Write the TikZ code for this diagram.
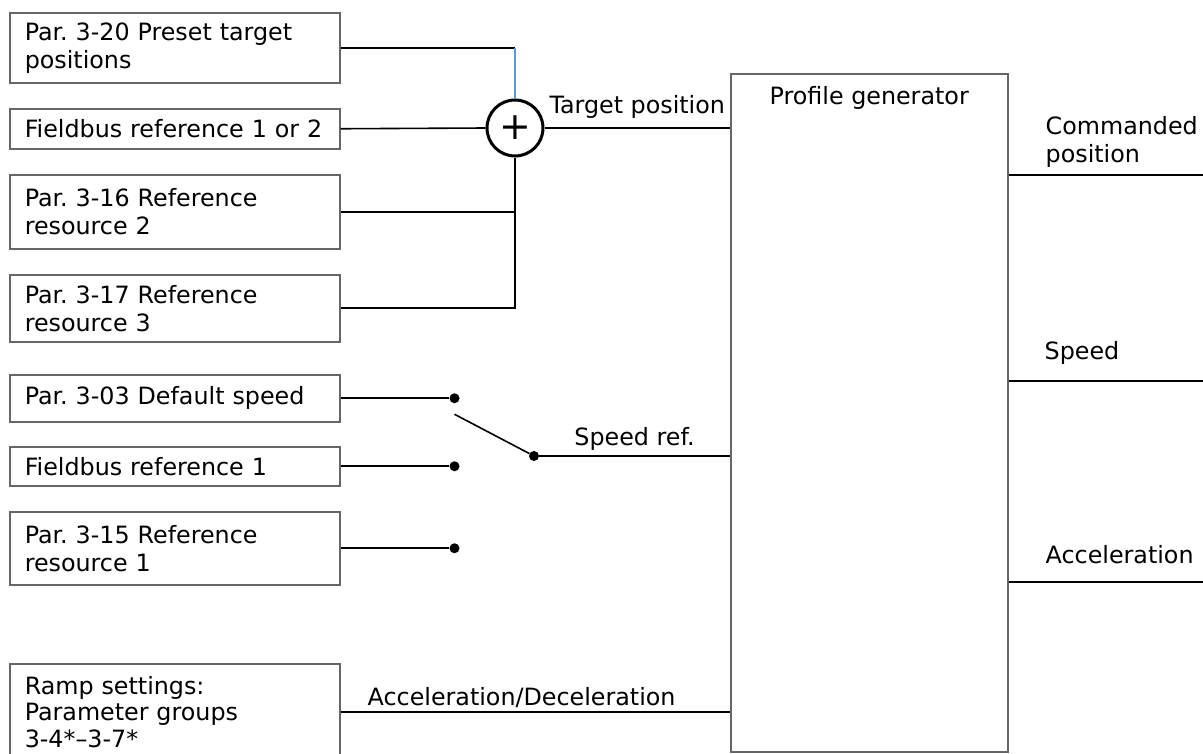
\documentclass[tikz,border=0pt]{standalone}
\usepackage{fontspec}
\setmainfont{DejaVu Sans}
\usetikzlibrary{positioning,calc}
\definecolor{tapblue}{RGB}{91,155,213}
\frenchspacing

\begin{document}
\begin{tikzpicture}[
  x=1pt, y=-1pt,
  font=\fontsize{23.8}{28}\selectfont,
  src/.style={draw=black!60, line width=1.5pt, anchor=north west, align=left,
    text width=300pt, inner xsep=15pt, inner ysep=0pt},
  wire/.style={line width=1.6pt},
  contact/.style={circle, fill, inner sep=0pt, minimum size=10pt},
  lbl/.style={inner sep=2pt}
]
\useasboundingbox (0,0) rectangle (1203,753);

% sources
\node[src, minimum height=70pt] (preset) at (9,12) {Par. 3-20 Preset target\\positions};
\node[src, minimum height=40pt] (fbpos) at (9,108) {Fieldbus reference 1 or 2};
\node[src, minimum height=74pt] (ref2) at (9,174) {Par. 3-16 Reference\\resource 2};
\node[src, minimum height=67pt] (ref3) at (9,274) {Par. 3-17 Reference\\resource 3};
\node[src, minimum height=47pt] (defspd) at (9,374) {Par. 3-03 Default speed};
\node[src, minimum height=39pt] (fbspd) at (9,446) {Fieldbus reference 1};
\node[src, minimum height=73pt] (ref1) at (9,511) {Par. 3-15 Reference\\resource 1};
\node[src, minimum height=96pt, font=\fontsize{23.8}{26.5}\selectfont] (ramp) at (9,663)
  {Ramp settings:\\Parameter groups\\3-4*–3-7*};

% summing point and profile generator
\node[circle, draw, line width=3pt, minimum size=56pt, inner sep=0pt,
  font=\fontsize{38}{38}\selectfont] (sum) at (515,128) {+};
\node[draw=black!60, line width=1.5pt, anchor=north west, minimum width=277pt,
  minimum height=678pt, inner sep=0pt] (prof) at (730,73) {};
\node[lbl, below=11pt of prof.north] (proftitle) {Profile generator};

% selector switch
\node[contact] (c1) at ($(defspd.east)+(114,0)$) {};
\node[contact] (c2) at ($(fbspd.east)+(114,0)$) {};
\node[contact] (c3) at ($(ref1.east)+(114,0)$) {};
\node[contact] (pivot) at (534,456) {};
\coordinate (blade) at ($(c1)+(0,16)$);

% position reference
\coordinate (tee) at (sum |- preset.east);
\draw[wire] (preset.east) -- (tee);
\draw[line width=1.3pt, tapblue] (tee) -- (sum.north);
\draw[wire] (fbpos.east) -- (sum.west);
\draw[wire] (ref2.east) -| (sum.south);
\draw[wire] (ref3.east) -| (sum.south);
\draw[wire] (sum.east) -- node[lbl, above=7pt] (tgtlbl) {Target position} (sum.east -| prof.west);

% speed reference
\draw[wire] (defspd.east) -- (c1);
\draw[wire] (fbspd.east) -- (c2);
\draw[wire] (ref1.east) -- (c3);
\draw[wire] (blade) -- (pivot);
\draw[wire] (pivot) -- node[lbl, above=3pt] (spdlbl) {Speed ref.} (pivot -| prof.west);

% ramps
\draw[wire] (ramp.east |- 0,712) -- node[lbl, above=1.5pt, pos=0.465] (ramplbl) {Acceleration/Deceleration} (prof.west |- 0,712);

% outputs
\coordinate (cmdend) at (1203,175);
\coordinate (spdend) at (1203,381);
\coordinate (accend) at (1203,582);
\draw[wire] (cmdend -| prof.east) -- (cmdend);
\draw[wire] (spdend -| prof.east) -- (spdend);
\draw[wire] (accend -| prof.east) -- (accend);
\node[lbl, align=left, anchor=south west] (cmdlbl) at ($(cmdend -| prof.east)+(35,-5.5)$) {Commanded\\position};
\node[lbl, anchor=base west] (spdout) at ($(spdend -| prof.east)+(34,-22)$) {Speed};
\node[lbl, anchor=base west] (accout) at ($(accend -| prof.east)+(35,-19)$) {Acceleration};

\end{tikzpicture}
\end{document}
